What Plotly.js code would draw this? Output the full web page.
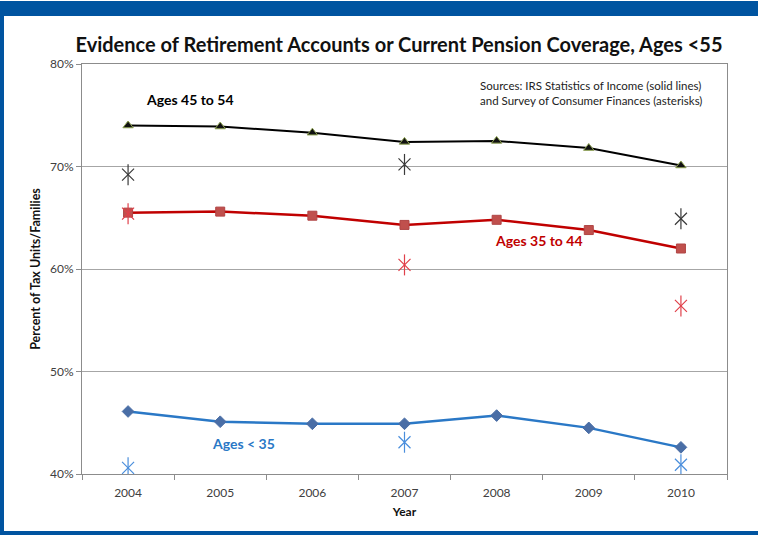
<!DOCTYPE html>
<html>
<head>
<meta charset="utf-8">
<script src="https://cdn.plot.ly/plotly-3.0.1.min.js"></script>
<style>
html,body{margin:0;padding:0;background:#fff;}
#chart{width:758px;height:535px;}
</style>
</head>
<body>
<div id="chart"></div>
<script>
// Categories
const years = ['2004','2005','2006','2007','2008','2009','2010'];
// IRS Statistics of Income (solid lines), percent
const irs45to54 = [74.0, 73.9, 73.3, 72.4, 72.5, 71.8, 70.1];
const irs35to44 = [65.5, 65.6, 65.2, 64.3, 64.8, 63.8, 62.0];
const irsUnder35 = [46.1, 45.1, 44.9, 44.9, 45.7, 44.5, 42.6];
// Survey of Consumer Finances (asterisks)
const scfYears = ['2004','2007','2010'];
const scf45to54 = [69.2, 70.2, 64.9];
const scf35to44 = [65.4, 60.4, 56.4];
const scfUnder35 = [40.6, 43.1, 40.9];
// Axis ticks
const yTicks = [40, 50, 60, 70, 80];
const yTickText = ['40%', '50%', '60%', '70%', '80%'];

const FONT = 'Lato, "Open Sans", sans-serif';

function lineTrace(y, lineColor, sym, mColor, mLine, size, w){
  return {x: years, y: y, type: 'scatter', mode: 'lines+markers',
    line: {color: lineColor, width: w},
    marker: {symbol: sym, size: size, color: mColor, line: {color: mLine, width: 1}},
    showlegend: false, hoverinfo: 'skip'};
}
function starTraces(y, color){
  return [
    {x: scfYears, y: y, type: 'scatter', mode: 'markers',
     marker: {symbol: 'x-thin-open', size: 12, color: color, line: {color: color, width: 1.2}},
     showlegend: false, hoverinfo: 'skip'},
    {x: scfYears, y: y, type: 'scatter', mode: 'markers',
     marker: {symbol: 'line-ns-open', size: 15, color: color, line: {color: color, width: 1.2}},
     showlegend: false, hoverinfo: 'skip'}
  ];
}

const data = [
  lineTrace(irs45to54, '#000000', 'triangle-up', '#111111', '#8CA050', 9, 2),
  lineTrace(irs35to44, '#C00000', 'square', '#C0504D', '#B04545', 9, 2.5),
  lineTrace(irsUnder35, '#2A78C6', 'diamond', '#4A6EA6', '#4A6EA6', 9, 2.5),
  ...starTraces(scf45to54, '#3A3A3A'),
  ...starTraces(scf35to44, '#E0404A'),
  ...starTraces(scfUnder35, '#4A8EDC')
];

const L = 82, R = 727, T = 64, B = 474;
const px = v => (v - L) / (R - L);
const py = v => (B - v) / (B - T);
const blue = '#0054A0';

function label(text, x, y, color, size){
  return {text: text, xref: 'paper', yref: 'paper', x: px(x), y: py(y),
    xanchor: 'center', yanchor: 'middle', showarrow: false,
    font: {family: FONT, size: size, color: color}};
}

const layout = {
  width: 758, height: 535,
  margin: {l: L, r: 758 - R, t: T, b: 535 - B, pad: 0},
  paper_bgcolor: '#ffffff', plot_bgcolor: '#ffffff',
  font: {family: FONT, size: 12, color: '#404040'},
  title: {text: 'Evidence of Retirement Accounts or Current Pension Coverage, Ages <55',
    font: {family: FONT, size: 20, color: '#111111', weight: 'bold'},
    x: 399/758, xanchor: 'center', xref: 'container',
    y: 1 - 45/535, yanchor: 'middle', yref: 'container'},
  xaxis: {type: 'category', categoryarray: years, range: [-0.5, 6.5],
    showgrid: false, showline: true, linecolor: '#8c8c8c', linewidth: 1, mirror: true,
    ticks: 'outside', tickson: 'boundaries', ticklen: 5, tickcolor: '#8c8c8c',
    ticklabelstandoff: 8,
    tickfont: {family: FONT, size: 12, color: '#404040'},
    title: {text: 'Year', font: {family: FONT, size: 12, color: '#111111', weight: 'bold'}, standoff: 8},
    zeroline: false, fixedrange: true},
  yaxis: {range: [40, 80], tickvals: yTicks, ticktext: yTickText, tickmode: 'array',
    showgrid: true, gridcolor: '#a6a6a6', gridwidth: 1,
    showline: true, linecolor: '#8c8c8c', linewidth: 1, mirror: true,
    ticks: 'outside', ticklen: 5, tickcolor: '#8c8c8c',
    tickfont: {family: FONT, size: 12, color: '#404040'},
    title: {text: 'Percent of Tax Units/Families', font: {family: FONT, size: 12.5, color: '#111111', weight: 'bold'}, standoff: 6},
    zeroline: false, fixedrange: true},
  annotations: [
    label('<b>Ages 45 to 54</b>', 190, 100, '#000000', 14),
    label('<b>Ages 35 to 44</b>', 539, 240, '#C00000', 14),
    label('<b>Ages < 35</b>', 243, 443, '#2A78C6', 14),
    {text: 'Sources: IRS Statistics of Income (solid lines)<br>and Survey of Consumer Finances (asterisks)',
     xref: 'paper', yref: 'paper', x: px(478), y: py(93.5), xanchor: 'left', yanchor: 'middle', align: 'left',
     showarrow: false, font: {family: FONT, size: 11.5, color: '#222222'}}
  ],
  shapes: [
    {type: 'rect', xref: 'paper', yref: 'paper', x0: px(0), x1: px(758), y0: py(1), y1: py(16),
     fillcolor: blue, line: {width: 0}, layer: 'above'},
    {type: 'rect', xref: 'paper', yref: 'paper', x0: px(0), x1: px(4), y0: py(1), y1: py(535),
     fillcolor: blue, line: {width: 0}, layer: 'above'},
    {type: 'rect', xref: 'paper', yref: 'paper', x0: px(0), x1: px(758), y0: py(531), y1: py(535),
     fillcolor: blue, line: {width: 0}, layer: 'above'}
  ]
};

Plotly.newPlot('chart', data, layout, {displayModeBar: false, staticPlot: true});
</script>
</body>
</html>
